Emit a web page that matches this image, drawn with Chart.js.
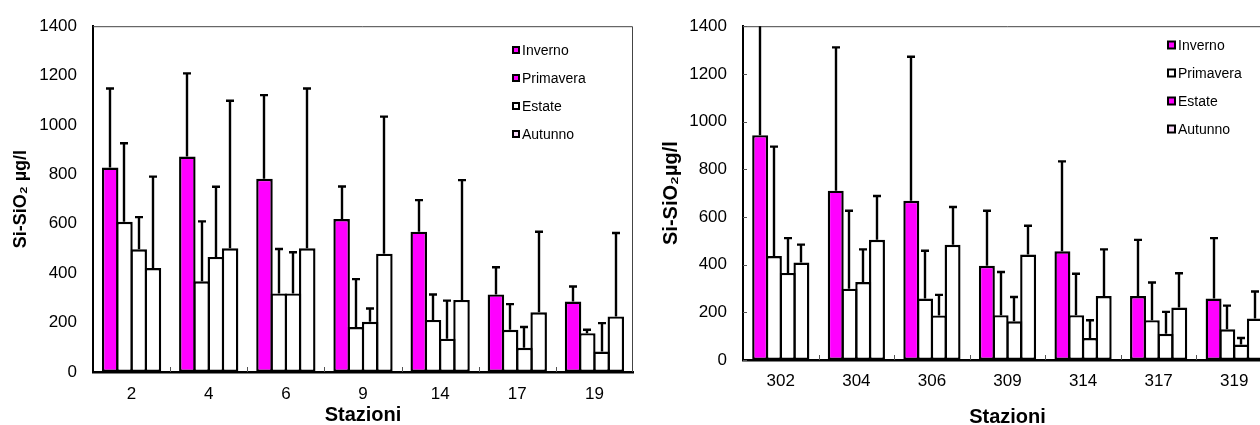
<!doctype html>
<html lang="it">
<head>
    <meta charset="UTF-8">
    <title>Si-SiO2 per stazione</title>
    <script src="https://cdn.jsdelivr.net/npm/chart.js"></script>
    <style>
        body { margin: 0; overflow: hidden; background: #fff; width: 1260px; height: 425px; position: relative; }
        .box { position: absolute; top: 0; width: 640px; height: 425px; }
    </style>
</head>
<body>
    <div class="box" style="left:0"><canvas id="chartSx" width="640" height="425"></canvas></div>
    <div class="box" style="left:640px"><canvas id="chartDx" width="640" height="425"></canvas></div>

    <script>
        const seasons = ['Inverno', 'Primavera', 'Estate', 'Autunno'];
        const yTicks = [0, 200, 400, 600, 800, 1000, 1200, 1400];

        // grafico di sinistra
        const stazioniSx = ['2', '4', '6', '9', '14', '17', '19'];
        const invernoSx = [828, 872, 782, 619, 568, 314, 285];
        const primaveraSx = [608, 367, 318, 182, 211, 171, 157];
        const estateSx = [497, 466, 318, 203, 135, 98, 83];
        const autunnoSx = [421, 501, 501, 479, 292, 242, 225];
        const invernoSdSx = [320, 337, 339, 132, 128, 110, 61];
        const primaveraSdSx = [318, 243, 180, 194, 103, 104, 14];
        const estateSdSx = [130, 284, 167, 54, 154, 84, 115];
        const autunnoSdSx = [370, 597, 647, 555, 485, 326, 338];

        // grafico di destra
        const stazioniDx = ['302', '304', '306', '309', '314', '317', '319'];
        const invernoDx = [943, 710, 668, 395, 456, 268, 258];
        const primaveraDx = [436, 299, 258, 188, 188, 167, 129];
        const estateDx = [365, 327, 187, 162, 92, 110, 65];
        const autunnoDx = [409, 504, 483, 442, 268, 220, 174];
        const invernoSdDx = [540, 601, 604, 231, 377, 236, 253];
        const primaveraSdDx = [459, 327, 200, 181, 174, 158, 99];
        const estateSdDx = [146, 137, 86, 102, 75, 92, 27];
        const autunnoSdDx = [75, 184, 159, 121, 196, 144, 113];

        const FONT = "'Liberation Sans', Arial, sans-serif";
        const MAGENTA = '#ff00ff';

        // barre d'errore (solo verso l'alto) + cornice + tacche interne + legenda
        const extras = {
            id: 'extras',
            beforeDatasetsDraw(chart) {
                const { ctx, chartArea: a } = chart;
                ctx.save();
                ctx.strokeStyle = '#444';
                ctx.lineWidth = 1;
                ctx.beginPath();
                ctx.moveTo(a.left, a.top + 0.5);
                ctx.lineTo(a.right - 0.5, a.top + 0.5);
                ctx.lineTo(a.right - 0.5, a.bottom);
                ctx.stroke();

                const xs = chart.scales.x;
                ctx.strokeStyle = '#555';
                ctx.beginPath();
                for (let i = 1; i < xs.ticks.length; i++) {
                    const x = Math.round((xs.getPixelForTick(i - 1) + xs.getPixelForTick(i)) / 2) + 0.5;
                    ctx.moveTo(x, a.bottom);
                    ctx.lineTo(x, a.bottom - 5);
                }
                if (chart.options.plugins.extras.yInnerTicks) {
                    const ys = chart.scales.y;
                    ys.ticks.forEach(t => {
                        const y = Math.round(ys.getPixelForValue(t.value)) + 0.5;
                        ctx.moveTo(a.left, y);
                        ctx.lineTo(a.left + 4, y);
                    });
                }
                ctx.stroke();
                ctx.restore();
            },
            afterDatasetsDraw(chart) {
                const { ctx, chartArea: a } = chart;
                const ys = chart.scales.y;
                ctx.save();
                ctx.beginPath();
                ctx.rect(a.left, a.top, a.right - a.left, a.bottom - a.top);
                ctx.clip();
                ctx.strokeStyle = '#000';
                ctx.lineWidth = 2.4;
                chart.data.datasets.forEach((ds, i) => {
                    const meta = chart.getDatasetMeta(i);
                    meta.data.forEach((bar, j) => {
                        const top = ys.getPixelForValue(ds.data[j] + ds.sd[j]);
                        const x = Math.round(bar.x);
                        ctx.beginPath();
                        ctx.moveTo(x, bar.y);
                        ctx.lineTo(x, top);
                        ctx.moveTo(x - 4, top);
                        ctx.lineTo(x + 4, top);
                        ctx.stroke();
                    });
                });
                ctx.restore();
            },
            afterDraw(chart) {
                const o = chart.options.plugins.extras;
                const ctx = chart.ctx;
                ctx.save();
                ctx.font = '14px ' + FONT;
                ctx.textBaseline = 'middle';
                chart.data.datasets.forEach((ds, i) => {
                    const y = o.legendY + i * o.legendStep;
                    const s = o.boxSize;
                    ctx.fillStyle = '#000';
                    ctx.fillRect(o.legendX, y - s / 2, s, s);
                    ctx.fillStyle = o.legendColors[i];
                    ctx.fillRect(o.legendX + 2, y - s / 2 + 2, s - 4, s - 4);
                    ctx.fillStyle = '#000';
                    ctx.fillText(ds.label, o.legendX + s + 2, y + 1);
                });
                ctx.restore();
            }
        };

        function makeChart(id, cfg) {
            const datasets = seasons.map((name, i) => ({
                label: name,
                data: cfg.values[i],
                sd: cfg.sds[i],
                backgroundColor: i === 0 ? MAGENTA : '#ffffff',
                borderColor: '#000',
                borderWidth: 2.4,
                borderSkipped: false,
                categoryPercentage: cfg.catPct,
                barPercentage: 1.16
            }));

            return new Chart(document.getElementById(id), {
                type: 'bar',
                data: { labels: cfg.labels, datasets: datasets },
                plugins: [extras],
                options: {
                    responsive: false,
                    animation: false,
                    layout: { padding: { top: cfg.top, right: cfg.right, left: 0, bottom: 0 } },
                    plugins: {
                        legend: { display: false },
                        tooltip: { enabled: false },
                        extras: {
                            yInnerTicks: cfg.yInnerTicks,
                            legendX: cfg.legendX,
                            legendY: cfg.legendY,
                            legendStep: 28,
                            boxSize: cfg.boxSize,
                            legendColors: cfg.legendColors
                        }
                    },
                    scales: {
                        x: {
                            grid: { display: false, drawTicks: false, tickLength: 0 },
                            border: { color: '#000', width: 2.4 },
                            ticks: { color: '#000', font: { family: FONT, size: 17 }, padding: cfg.xPad, maxRotation: 0 },
                            title: {
                                display: true, text: 'Stazioni', color: '#000',
                                font: { family: FONT, size: 20, weight: 'bold', lineHeight: cfg.xTitleLh },
                                padding: 0
                            },
                            afterFit(s) { s.height = cfg.xHeight; }
                        },
                        y: {
                            min: 0, max: 1400,
                            afterBuildTicks(s) { s.ticks = yTicks.map(v => ({ value: v })); },
                            grid: { display: false, drawTicks: false, tickLength: 0 },
                            border: { color: '#000', width: 2 },
                            ticks: {
                                color: '#000', font: { family: FONT, size: 17 }, padding: 16,
                                callback: v => String(v)
                            },
                            title: {
                                display: true, text: cfg.yTitle, color: '#000',
                                font: { family: FONT, size: cfg.yTitleSize, weight: 'bold' },
                                padding: { top: cfg.yTitlePad, bottom: 0 }
                            },
                            afterFit(s) { s.width = cfg.yWidth; }
                        }
                    }
                }
            });
        }

        makeChart('chartSx', {
            labels: stazioniSx,
            values: [invernoSx, primaveraSx, estateSx, autunnoSx],
            sds: [invernoSdSx, primaveraSdSx, estateSdSx, autunnoSdSx],
            catPct: 0.739,
            top: 25, right: 7,
            yWidth: 93, xHeight: 53, xPad: 12, xTitleLh: 1,
            yTitle: 'Si-SiO\u2082 \u00b5g/l', yTitleSize: 18, yTitlePad: 10,
            yInnerTicks: false,
            legendX: 512, legendY: 50, boxSize: 8,
            legendColors: [MAGENTA, MAGENTA, '#ffffff', '#f6d8f6']
        });

        makeChart('chartDx', {
            labels: stazioniDx,
            values: [invernoDx, primaveraDx, estateDx, autunnoDx],
            sds: [invernoSdDx, primaveraSdDx, estateSdDx, autunnoSdDx],
            catPct: 0.728,
            top: 20, right: 8,
            yWidth: 103, xHeight: 65, xPad: 11, xTitleLh: 0.8,
            yTitle: 'Si-SiO\u2082\u00b5g/l', yTitleSize: 20, yTitlePad: 19,
            yInnerTicks: true,
            legendX: 527, legendY: 45, boxSize: 9,
            legendColors: [MAGENTA, '#ffffff', MAGENTA, '#f6d8f6']
        });
    </script>
</body>
</html>
